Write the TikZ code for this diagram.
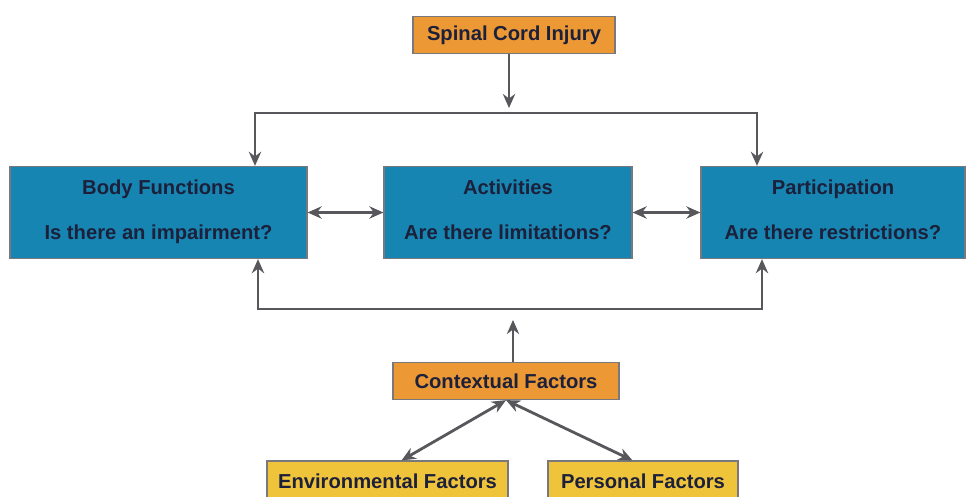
\documentclass[tikz,border=0pt]{standalone}
\usepackage{fontspec}
\setmainfont{Liberation Sans}
\usetikzlibrary{arrows.meta}
\definecolor{icforange}{RGB}{236,152,52}
\definecolor{icfblue}{RGB}{22,133,178}
\definecolor{icfyellow}{RGB}{240,196,58}
\definecolor{icfline}{RGB}{88,88,92}
\definecolor{icftext}{RGB}{28,32,58}
\begin{document}
\begin{tikzpicture}[x=0.02cm, y=-0.02cm,
    box/.style={draw=icfline!80, line width=0.7pt, inner sep=0pt, align=center,
      text=icftext, font=\fontsize{11.5}{13.5}\selectfont\bfseries},
    orangebox/.style={box, fill=icforange, minimum height=0.74cm},
    bluebox/.style={box, fill=icfblue, minimum width=5.1cm, minimum height=1.84cm},
    yellowbox/.style={box, fill=icfyellow, minimum height=0.8cm},
    link/.style={draw=icfline, line width=1.6pt, -{Stealth[length=8pt,width=7pt]}},
    dlink/.style={link, {Stealth[length=8pt,width=7pt]}-{Stealth[length=8pt,width=7pt]}}]
  \clip (0,0) rectangle (968,497);
  \node[orangebox, minimum width=4.04cm] (sci) at (514,35) {Spinal Cord Injury};
  \node[bluebox, minimum width=5.94cm] (body) at (158.5,212.5) {\strut Body Functions\\[12pt]\strut Is there an impairment?};
  \node[bluebox, minimum width=4.96cm] (act) at (508,212.5) {\strut Activities\\[12pt]\strut Are there limitations?};
  \node[bluebox, minimum width=5.28cm] (part) at (833,212.5) {\strut Participation\\[12pt]\strut Are there restrictions?};
  \node[orangebox, minimum width=4.52cm] (ctx) at (506,381) {Contextual Factors};
  \node[yellowbox, minimum width=4.82cm] (env) at (387.5,481) {Environmental Factors};
  \node[yellowbox, minimum width=3.8cm] (pers) at (643,481) {Personal Factors};

  \coordinate (top) at (509,108);
  \coordinate (tl) at (255,113);
  \coordinate (tr) at (757,113);
  \coordinate (bl) at (258,309);
  \coordinate (br) at (762,309);
  \coordinate (bot) at (513,320);

  \draw[link] (sci.south -| top) -- (top);
  \draw[link] (tr) -- (tl) -- (tl |- body.north);
  \draw[link] (tl) -- (tr) -- (tr |- part.north);
  \draw[dlink] (body.east) -- (act.west);
  \draw[dlink] (act.east) -- (part.west);
  \draw[link] (br) -- (bl) -- (bl |- body.south);
  \draw[link] (bl) -- (br) -- (br |- part.south);
  \draw[link] (ctx.north -| bot) -- (bot);
  \draw[dlink] (ctx.south) -- ([xshift=8]env.north);
  \draw[dlink] (ctx.south) -- ([xshift=-6]pers.north);
\end{tikzpicture}
\end{document}
